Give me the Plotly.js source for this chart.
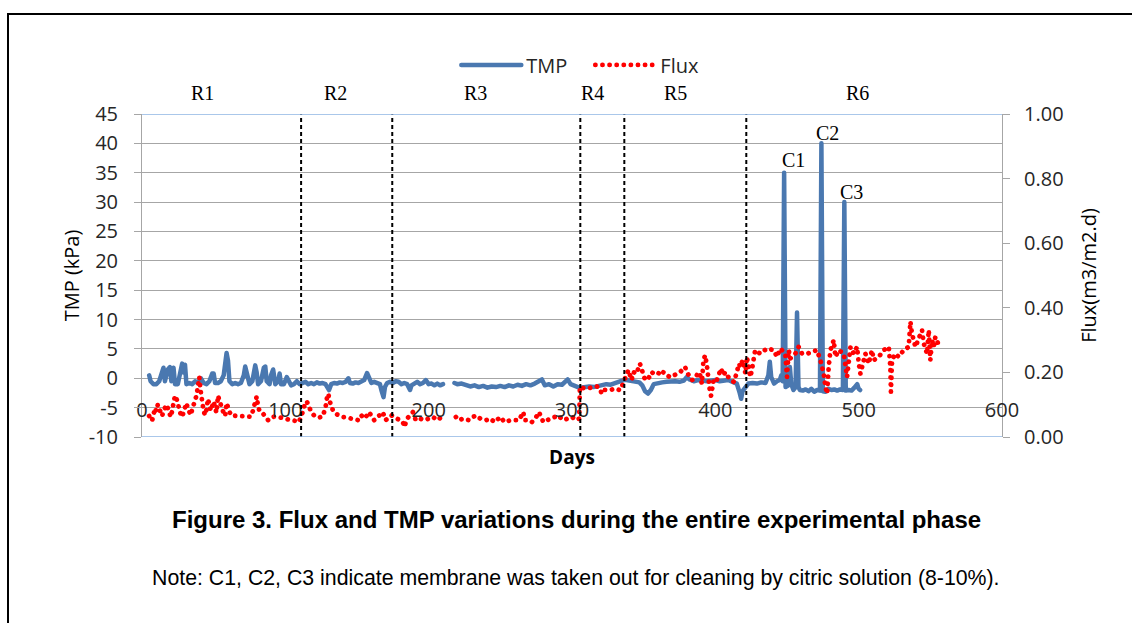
<!DOCTYPE html>
<html><head><meta charset="utf-8">
<script src="https://cdn.plot.ly/plotly-3.0.1.min.js"></script>
<style>
html,body{margin:0;padding:0;background:#fff;}
#chart{position:absolute;left:0;top:0;width:1132px;height:623px;}
#frame{position:absolute;left:7px;top:13px;width:1200px;height:700px;border-left:2px solid #000;border-top:2px solid #000;pointer-events:none;}
.js-line{stroke-linecap:round;stroke-linejoin:round;}
</style></head><body>
<div id="chart"></div><div id="frame"></div>
<script>
// ---- TMP (kPa) by day ----
const tmpDays = [
 5,6,8,10,12,14,15,16,18,19.5,20.5,22,23,25,27,28,29,30,31,33,35,37,39,41,43,45,47,49,50,51,53,55,57,58,59,60,61,63,65,67,69,71,72,73,75,77,78,79,80,81,83,85,86,87,89,90,91.5,93,95,96,97,99,101,102,104,106,108,110,
 112,114,116,118,120,122,124,126,128,129.5,130.5,132,134,136,138,140,142,144,145,147,149,151,153,155,157,158,160,162,164,166,167,168.5,169.5,171,173,
 175,177,179,181,183,185,186,187,188,190,192,194,196,198,200,202,204,206,208,210,214,218,220,223,226,229,232,235,238,241,244,247,250,253,256,259,262,265,268,271,274,277,279,281,284,287,290,293,296,297,299,302,305,
 306,309,312,315,318,321,324,327,330,333,336,
 338,341,344,347,349,351,353,355,357,360,363,366,369,372,375,378,380,382,385,388,391,394,397,400,403,406,409,412,415,417,418,419,
 421,423,426,429,432,435,437,438,439,441,443,445,446,447,448,449,451,452,453,454.5,456,457,458,459,461,463,465,467,469,471,473,474,475,477,479,481,483,485,487,489,490,491,493,495,497,499,500,501
];
const tmpKPa = [
 0.5,-0.5,-1.0,-1.0,-0.5,1.5,1.8,-0.5,1.5,1.9,-0.5,1.8,-1.0,-1.0,1.0,2.5,1.0,2.3,-1.0,-0.8,-1.0,-0.5,-0.8,0.0,-0.8,-1.0,-0.5,0.8,0.8,-0.8,-0.8,-0.5,0.5,3.5,4.3,3.0,-0.5,-1.0,-0.8,-1.0,-0.8,0.5,2.0,1.0,-1.0,-0.5,1.5,2.2,1.0,-1.0,-0.5,1.8,2.0,-0.5,-1.0,0.5,1.5,-1.0,-0.5,0.8,-1.0,-1.0,0.2,-0.2,-1.2,-1.0,-0.5,-1.0,
 -0.8,-0.6,-1.0,-0.8,-1.0,-0.7,-0.9,-0.8,-1.0,-1.5,-2.0,-1.0,-0.8,-0.9,-0.7,-0.8,-0.6,0.0,-0.8,-0.9,-0.7,-0.8,-0.6,-0.3,0.9,0.2,-0.8,-0.6,-0.9,-1.0,-2.0,-3.2,-1.5,-0.8,-0.6,
 -0.8,-0.5,-0.6,-1.0,-0.8,-1.0,-1.8,-2.0,-1.2,-0.8,-0.6,-1.0,-0.8,-0.3,-1.0,-0.9,-1.2,-0.9,-1.2,-1.0,null,-0.8,-1.0,-0.9,-1.2,-1.4,-1.2,-1.5,-1.3,-1.6,-1.4,-1.5,-1.3,-1.5,-1.2,-1.4,-1.1,-1.3,-1.0,-1.2,-0.9,-0.5,-0.2,-1.2,-1.0,-1.4,-1.0,-1.1,-0.4,-0.2,-1.0,-1.4,-1.6,
 -1.6,-1.5,-1.4,-1.5,-1.3,-1.2,-1.0,-1.1,-0.8,-0.6,-0.3,
 -0.3,-0.4,-0.5,-0.7,-1.2,-2.2,-2.6,-2.0,-1.0,-0.8,-0.7,-0.6,-0.5,-0.5,-0.6,-0.4,0.2,-0.2,-0.5,-0.3,-0.4,-0.5,-0.4,-0.3,-0.5,-0.4,-0.3,-0.6,-0.9,-2.5,-3.5,-2.2,
 -1.5,-0.9,-0.8,-0.9,-0.7,-0.8,0.5,2.8,0.2,-0.9,-0.5,-0.3,0.5,-0.5,35,-1.5,-1.2,1.9,-1.0,-2.0,-1.5,11.2,-1.5,-2.0,-2.1,-1.9,-2.2,-1.8,-2.3,-2.0,-2.1,40,-2.2,-2.3,-1.8,-2.0,-1.9,-2.1,-1.9,-2.0,30,-2.1,-2.0,-2.1,-1.6,-1.0,-1.8,-2.0
];

// ---- Flux (m3/m2.d) by day ----
const fluxDays = [
 5,6,7,8,9,10,11,12,13,14,15,16,17,18,19,20,21,22,23,24,25,26,27,28,29,30,31,32,33,34,35,36,37,38,39,40,41,42,43,44,45,46,47,48,49,50,51,52,53,54,55,56,57,58,59,60,61,62,64,66,68,70,72,74,76,77,78,79,80,81,82,84,86,88,90,92,95,98,101,104,107,109,
 111,112.5,114,115,116.5,118,120,123,126,128,129,130,131,133,135,137,140,143,146,149,151,153,155,157,158,160,162,164,166,168,170,172,174,
 176,178,180,182,183,185,187,189,191,194,197,200,203,206,209,214,219,221,224,228,231,233,236,240,243,246,250,253,257,259,263,266,267,270,272,275,277,280,282,285,288,290,294,297,300,303,305,
 305.5,309,313.6,317.2,319.5,320.7,323,326.5,330,333.5,335.1,
 336.5,338,339.3,340.5,341.6,342.8,345,347.4,348.6,349.8,351,353.3,355.6,357,359.1,361,362.6,363.8,366.1,368,369.6,371,373.1,375.5,377,378.9,380.1,381.3,383.6,385.9,387,388.2,389.4,390.6,391.7,392.9,394.1,395,396,397,398,399,401,403,404,405.5,407,409,411,413,415,416.5,417.5,419,420,421,
 422,423.2,424.4,425.5,427.8,431.3,436,440.7,443,445.3,448.8,450,451.2,452.3,455.8,458.1,460.5,464,467.4,470.9,473.3,475.6,476.8,478,479.1,480.3,482.6,483.8,486.1,489.6,491.9,494.3,496.6,498.9,500.1,501.2,504.7,507,509.3,510.5,514,517.5,521,522.1,522.5,523.3,525.6,527.9,531.4,534.9,536.1,537.2,539.6,543.1,544.2,545.4,547.7,548.9,550,551.2,552.4,553.5,555.9
];
const fluxValues = [
 0.065,0.058,0.05,0.068,0.09,0.08,0.10,0.088,0.072,0.065,0.08,0.095,0.10,0.09,0.075,0.062,0.08,0.10,0.128,0.12,0.10,0.085,0.07,0.062,0.075,0.092,0.105,0.088,0.076,0.068,0.085,0.098,0.112,0.128,0.155,0.185,0.14,0.10,0.08,0.068,0.085,0.118,0.10,0.082,0.095,0.11,0.09,0.075,0.128,0.118,0.10,0.085,0.075,0.065,0.105,0.09,0.075,0.067,0.066,0.065,0.065,0.066,0.065,0.064,0.063,0.075,0.09,0.11,0.125,0.095,0.08,0.075,0.065,0.052,0.06,0.063,0.062,0.058,0.055,0.052,0.05,0.045,
 0.06,0.09,0.108,0.11,0.09,0.078,0.067,0.06,0.063,0.09,0.12,0.134,0.11,0.085,0.072,0.067,0.062,0.06,0.058,0.057,0.052,0.067,0.057,0.067,0.077,0.067,0.052,0.06,0.067,0.077,0.052,0.062,0.067,
 0.062,0.057,0.052,0.046,0.031,0.057,0.067,0.077,0.052,0.057,0.052,0.057,0.062,0.052,0.062,null,0.062,0.052,0.057,0.052,0.062,0.067,0.057,0.052,0.057,0.046,0.062,0.046,0.052,0.052,0.052,0.077,0.052,0.052,0.046,0.062,0.077,0.046,0.052,0.057,0.062,0.067,0.052,0.057,0.062,0.052,0.057,
 0.155,0.150,0.153,0.157,0.150,0.134,0.146,0.145,0.15,0.145,0.16,
 0.176,0.201,0.207,0.191,0.176,0.201,0.196,0.227,0.212,0.191,0.176,0.181,0.201,0.196,0.201,0.196,0.191,0.201,0.191,0.186,0.186,0.191,0.196,0.201,0.207,0.217,0.201,0.191,0.176,0.181,0.196,0.201,0.191,0.165,0.238,0.253,0.222,0.18,0.15,0.128,0.16,0.181,0.176,0.207,0.212,0.191,0.201,0.186,0.176,0.17,0.201,0.227,0.217,0.238,0.22,0.196,
 0.248,0.217,0.186,0.207,0.269,0.258,0.274,0.269,0.248,0.274,0.258,0.186,0.269,0.243,0.258,0.279,0.258,0.258,0.264,0.269,0.238,0.196,0.155,0.134,0.217,0.269,0.300,0.248,0.269,0.258,0.186,0.279,0.258,0.279,0.227,0.196,0.258,0.227,0.269,0.238,0.248,0.269,0.279,0.217,0.14,0.238,0.258,0.248,0.269,0.279,0.357,0.320,0.279,0.320,0.331,0.290,0.258,0.331,0.238,0.300,0.279,0.310,0.284
];

// ---- Regions, cleaning events, tick labels ----
const regionBounds = [111, 174.6, 305.8, 336.5, 421.6];
const regionNames = ['R1','R2','R3','R4','R5','R6'];
const regionLabelDay = [42, 135, 232.5, 314, 372, 499];
const cleaningNames = ['C1','C2','C3'];
const cleaningDay = [454.6, 478, 494.9];
const cleaningLabelTMP = [37.2, 41.8, 31.7];
const xTicks = [0,100,200,300,400,500,600];
const tmpTicks = [-10,-5,0,5,10,15,20,25,30,35,40,45];
const fluxTicks = [0,0.2,0.4,0.6,0.8,1.0];

const serif = 'Liberation Serif, Times New Roman, serif';
const sans = 'Open Sans, sans-serif';
const arial = 'Liberation Sans, Arial, sans-serif';

const traces = [
  {x: tmpDays, y: tmpKPa, name: 'TMP', type: 'scatter', mode: 'lines',
   line: {color: '#4A78B0', width: 4.5}, yaxis: 'y'},
  {x: fluxDays, y: fluxValues, name: 'Flux', type: 'scatter', mode: 'lines',
   line: {color: '#FF0000', width: 4.8, dash: '0.1px,7px'}, yaxis: 'y2'}
];

const shapes = regionBounds.map(d => ({
  type: 'line', xref: 'x', yref: 'paper', x0: d, x1: d, y0: 0, y1: 1,
  line: {color: '#000', width: 2, dash: '4px,3px'}, layer: 'above'
}));
shapes.push({type:'line', xref:'paper', yref:'y', x0:0, x1:1, y0:45, y1:45, line:{color:'#8EB4E3', width:1.5}, layer:'above'});
shapes.push({type:'line', xref:'paper', yref:'y', x0:0, x1:1, y0:-10, y1:-10, line:{color:'#8EB4E3', width:1.5}, layer:'above'});

const annotations = [];
regionNames.forEach((n,i) => annotations.push({
  text: n, x: regionLabelDay[i], xref: 'x', y: 1.065, yref: 'paper',
  showarrow: false, font: {family: serif, size: 20, color: '#000'}, xanchor: 'center', yanchor: 'middle'
}));
cleaningNames.forEach((n,i) => annotations.push({
  text: n, x: cleaningDay[i], xref: 'x', y: cleaningLabelTMP[i], yref: 'y',
  showarrow: false, font: {family: serif, size: 20, color: '#000'}, xanchor: 'center', yanchor: 'middle'
}));
annotations.push({text: '<b>Figure 3. Flux and TMP variations during the entire experimental phase</b>',
  x: 0.505, xref: 'paper', y: -0.255, yref: 'paper', showarrow: false,
  font: {family: arial, size: 24, color: '#000'}, xanchor: 'center', yanchor: 'middle'});
annotations.push({text: 'Note: C1, C2, C3 indicate membrane was taken out for cleaning by citric solution (8-10%).',
  x: 0.505, xref: 'paper', y: -0.435, yref: 'paper', showarrow: false,
  font: {family: arial, size: 21.3, color: '#000'}, xanchor: 'center', yanchor: 'middle'});

const layout = {
  width: 1132, height: 623,
  margin: {l: 142, r: 130, t: 114, b: 186, pad: 0},
  paper_bgcolor: '#fff', plot_bgcolor: '#fff',
  font: {family: sans, size: 20, color: '#262626'},
  showlegend: true,
  legend: {orientation: 'h', x: 0.3655, xanchor: 'left', y: 1.152, yanchor: 'middle',
           itemwidth: 60, entrywidth: 59,
           font: {family: sans, size: 20, color: '#262626'}, bgcolor: 'rgba(0,0,0,0)'},
  xaxis: {range: [0, 600], tickvals: xTicks, ticktext: xTicks.map(String),
          showgrid: false, zeroline: false, showline: false, ticks: '',
          anchor: 'free', position: 0.127, automargin: false,
          tickfont: {family: sans, size: 20, color: '#262626'},
          title: {text: '<b>Days</b>', font: {family: sans, size: 19, color: '#000'}, standoff: 28}},
  yaxis: {range: [-10, 45], tickvals: tmpTicks, ticktext: tmpTicks.map(String),
          showgrid: true, gridcolor: '#A6A6A6', gridwidth: 1,
          zeroline: false, showline: true, linecolor: '#A6A6A6', linewidth: 1,
          ticks: 'outside', ticklen: 7, tickcolor: '#A6A6A6', ticklabelstandoff: 12, automargin: false,
          tickfont: {family: sans, size: 20, color: '#262626'},
          title: {text: 'TMP (kPa)', font: {family: sans, size: 20, color: '#000'}, standoff: 3}},
  yaxis2: {range: [0, 1], tickvals: fluxTicks, ticktext: fluxTicks.map(v => v.toFixed(2)),
           overlaying: 'y', side: 'right',
           showgrid: false, zeroline: false, showline: true, linecolor: '#A6A6A6', linewidth: 1,
           ticks: 'outside', ticklen: 7, tickcolor: '#A6A6A6', ticklabelstandoff: 10, automargin: false,
           tickfont: {family: sans, size: 20, color: '#262626'},
           title: {text: 'Flux(m3/m2.d)', font: {family: sans, size: 20, color: '#000'}, standoff: 19}},
  shapes: shapes,
  annotations: annotations,
  hovermode: false
};

Plotly.newPlot('chart', traces, layout, {staticPlot: true, displayModeBar: false});
</script></body></html>
